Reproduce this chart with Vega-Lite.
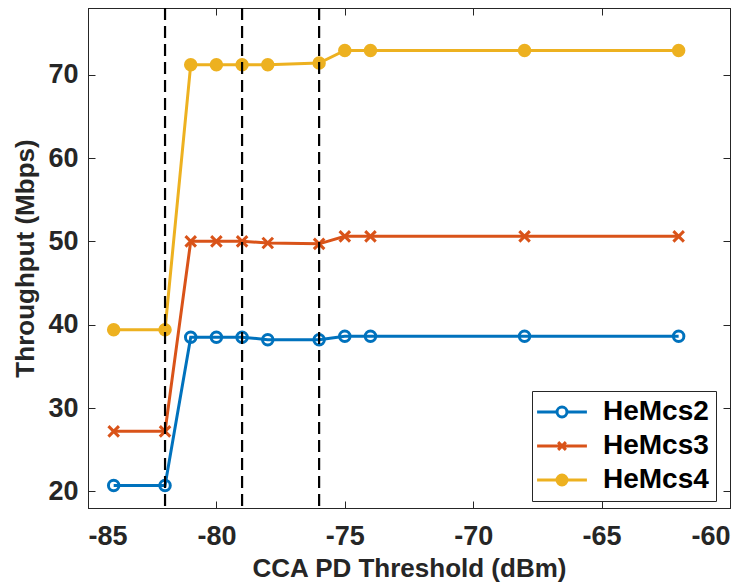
{
  "$schema": "https://vega.github.io/schema/vega-lite/v6.json",
  "width": 642,
  "height": 500,
  "autosize": {"type": "none"},
  "padding": {"left": 88, "top": 8, "right": 22, "bottom": 76},
  "background": "white",
  "config": {
    "view": {"stroke": "#262626", "strokeWidth": 1},
    "font": "Liberation Sans",
    "axis": {
      "labelFont": "Liberation Sans", "labelFontWeight": "bold", "labelFontSize": 27, "labelColor": "#262626",
      "titleFont": "Liberation Sans", "titleFontWeight": "bold", "titleFontSize": 26, "titleColor": "#262626",
      "domainColor": "#262626", "tickColor": "#262626", "grid": false, "tickSize": -7, "tickWidth": 1,
      "labelExpr": "replace(datum.label, '\u2212', '-')"
    },
    "legend": {
      "orient": "none", "legendX": 444, "legendY": 383, "strokeColor": "#262626", "fillColor": "white",
      "padding": 7, "symbolOffset": 9, "labelOffset": 27, "rowPadding": 6,
      "labelFont": "Liberation Sans", "labelFontSize": 28, "labelFontWeight": "bold", "labelColor": "black",
      "symbolStrokeWidth": 3, "symbolSize": 110, "symbolOpacity": 1
    }
  },
  "data": {"values": [
    {"x": -84, "y": 20.7, "s": "HeMcs2"}, {"x": -82, "y": 20.7, "s": "HeMcs2"}, {"x": -81, "y": 38.5, "s": "HeMcs2"},
    {"x": -80, "y": 38.5, "s": "HeMcs2"}, {"x": -79, "y": 38.5, "s": "HeMcs2"}, {"x": -78, "y": 38.2, "s": "HeMcs2"},
    {"x": -76, "y": 38.2, "s": "HeMcs2"}, {"x": -75, "y": 38.6, "s": "HeMcs2"}, {"x": -74, "y": 38.6, "s": "HeMcs2"},
    {"x": -68, "y": 38.6, "s": "HeMcs2"}, {"x": -62, "y": 38.6, "s": "HeMcs2"},
    {"x": -84, "y": 27.2, "s": "HeMcs3"}, {"x": -82, "y": 27.2, "s": "HeMcs3"}, {"x": -81, "y": 50.0, "s": "HeMcs3"},
    {"x": -80, "y": 50.0, "s": "HeMcs3"}, {"x": -79, "y": 50.0, "s": "HeMcs3"}, {"x": -78, "y": 49.8, "s": "HeMcs3"},
    {"x": -76, "y": 49.7, "s": "HeMcs3"}, {"x": -75, "y": 50.6, "s": "HeMcs3"}, {"x": -74, "y": 50.6, "s": "HeMcs3"},
    {"x": -68, "y": 50.6, "s": "HeMcs3"}, {"x": -62, "y": 50.6, "s": "HeMcs3"},
    {"x": -84, "y": 39.4, "s": "HeMcs4"}, {"x": -82, "y": 39.4, "s": "HeMcs4"}, {"x": -81, "y": 71.2, "s": "HeMcs4"},
    {"x": -80, "y": 71.2, "s": "HeMcs4"}, {"x": -79, "y": 71.2, "s": "HeMcs4"}, {"x": -78, "y": 71.2, "s": "HeMcs4"},
    {"x": -76, "y": 71.4, "s": "HeMcs4"}, {"x": -75, "y": 72.9, "s": "HeMcs4"}, {"x": -74, "y": 72.9, "s": "HeMcs4"},
    {"x": -68, "y": 72.9, "s": "HeMcs4"}, {"x": -62, "y": 72.9, "s": "HeMcs4"}
  ]},
  "layer": [
    {
      "mark": {"type": "line", "strokeWidth": 3},
      "encoding": {
        "x": {"field": "x", "type": "quantitative", "scale": {"domain": [-85, -60], "nice": false, "zero": false},
              "axis": {"orient": "bottom", "values": [-85, -80, -75, -70, -65, -60], "title": "CCA PD Threshold (dBm)", "titlePadding": 6, "labelPadding": 22}},
        "y": {"field": "y", "type": "quantitative", "scale": {"domain": [18, 78], "nice": false, "zero": false},
              "axis": {"orient": "left", "values": [20, 30, 40, 50, 60, 70], "title": "Throughput (Mbps)", "titlePadding": 9, "labelPadding": 17}},
        "color": {"field": "s", "type": "nominal", "scale": {"domain": ["HeMcs2", "HeMcs3", "HeMcs4"], "range": ["#0072BD", "#D95319", "#EDB120"]}, "legend": {"title": null}}
      }
    },
    {
      "mark": {"type": "point", "strokeWidth": 3, "size": 110, "opacity": 1},
      "encoding": {
        "x": {"field": "x", "type": "quantitative", "axis": {"orient": "top", "values": [-85, -80, -75, -70, -65, -60], "labels": false, "title": null}},
        "y": {"field": "y", "type": "quantitative", "axis": {"orient": "right", "values": [20, 30, 40, 50, 60, 70], "labels": false, "title": null}},
        "color": {"field": "s", "type": "nominal"},
        "fill": {"field": "s", "type": "nominal", "scale": {"domain": ["HeMcs2", "HeMcs3", "HeMcs4"], "range": ["transparent", "#D95319", "#EDB120"]}, "legend": {"title": null}},
        "shape": {"condition": {"test": "datum.s === 'HeMcs3'", "value": "M-1,-1L1,1M-1,1L1,-1"}, "value": "circle"}
      }
    },
    {
      "mark": {"type": "point", "strokeWidth": 3, "size": 110, "opacity": 0},
      "encoding": {
        "x": {"field": "x", "type": "quantitative", "axis": null},
        "y": {"field": "y", "type": "quantitative", "axis": null},
        "color": {"field": "s", "type": "nominal"},
        "fill": {"field": "s", "type": "nominal"},
        "shape": {"field": "s", "type": "nominal", "legend": {"title": null},
          "scale": {"domain": ["HeMcs2", "HeMcs3", "HeMcs4"], "range": [
            "M-4.75,0H-0.95M0.95,0H4.75M-0.95,0A0.95,0.95 0 1,1 0.95,0A0.95,0.95 0 1,1 -0.95,0",
            "M-4.75,0H4.75M-0.74,-0.74L0.74,0.74M-0.74,0.74L0.74,-0.74",
            "M-4.75,0H4.75M-0.95,0A0.95,0.95 0 1,1 0.95,0A0.95,0.95 0 1,1 -0.95,0"
          ]}}
      }
    },
    {
      "data": {"values": [{"x": -82}, {"x": -79}, {"x": -76}]},
      "mark": {"type": "rule", "color": "black", "strokeWidth": 2.2, "strokeDash": [12, 6]},
      "encoding": {
        "x": {"field": "x", "type": "quantitative", "axis": null}
      }
    }
  ],
  "resolve": {"axis": {"x": "independent", "y": "independent"}}
}
